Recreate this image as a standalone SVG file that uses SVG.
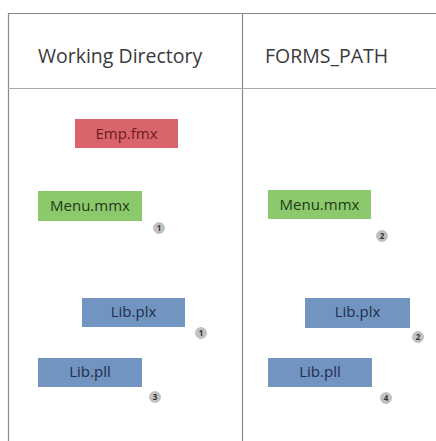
<svg xmlns="http://www.w3.org/2000/svg" width="436" height="441" viewBox="0 0 436 441">
<style>
.hdr{font-family:"Open Sans","Liberation Sans",sans-serif;font-size:19.5px;font-weight:500;fill:#3a3a3a}
.lbl{font-family:"Open Sans","Liberation Sans",sans-serif;font-size:15px;font-weight:500;text-anchor:middle}
.red rect{fill:#d9646c}.red text{fill:#6a1c22}
.green rect{fill:#8cc96c}.green text{fill:#1f3a18}
.blue rect{fill:#7294c0}.blue text{fill:#1f2e4c}
.badge circle{fill:#c2c2c2;stroke:#a0a0a0;stroke-width:0.5}
.badge text{font-family:"Open Sans","Liberation Sans",sans-serif;font-size:8px;font-weight:700;text-anchor:middle;fill:#333}
.grid{stroke:#8a8a8a;stroke-width:1.2;fill:none}
</style>
<rect width="436" height="441" fill="#fff"/>
<g id="table" class="grid">
<path d="M8.5 441V13.5H436"/>
<path d="M242.5 13V441"/>
<path d="M8 88.5H436" stroke="#aaa"/>
</g>
<g id="headers">
<text class="hdr" x="38" y="63">Working Directory</text>
<text class="hdr" x="265" y="63">FORMS_PATH</text>
</g>
<g id="emp-fmx" class="red"><rect x="75" y="119" width="103" height="29"/><text class="lbl" x="126.5" y="138.5">Emp.fmx</text></g>
<g id="menu-wd" class="green"><rect x="38" y="191" width="104" height="30"/><text class="lbl" x="90" y="210.5">Menu.mmx</text></g>
<g id="menu-fp" class="green"><rect x="268" y="190" width="103" height="29"/><text class="lbl" x="319.5" y="209.5">Menu.mmx</text></g>
<g id="libplx-wd" class="blue"><rect x="82" y="298" width="103" height="29"/><text class="lbl" x="133.5" y="317">Lib.plx</text></g>
<g id="libpll-wd" class="blue"><rect x="38" y="358" width="104" height="29"/><text class="lbl" x="90" y="377">Lib.pll</text></g>
<g id="libplx-fp" class="blue"><rect x="305" y="298" width="105" height="30"/><text class="lbl" x="357.5" y="317">Lib.plx</text></g>
<g id="libpll-fp" class="blue"><rect x="268" y="358" width="104" height="29"/><text class="lbl" x="320" y="377">Lib.pll</text></g>
<g id="badges" class="badge">
<g id="b1"><circle cx="159" cy="228" r="5.5"/><text x="159" y="231">1</text></g>
<g id="b2"><circle cx="382" cy="236" r="5.5"/><text x="382" y="239">2</text></g>
<g id="b3"><circle cx="201" cy="333" r="5.5"/><text x="201" y="336">1</text></g>
<g id="b4"><circle cx="155" cy="397" r="5.5"/><text x="155" y="400">3</text></g>
<g id="b5"><circle cx="418" cy="337" r="5.5"/><text x="418" y="340">2</text></g>
<g id="b6"><circle cx="386" cy="398" r="5.5"/><text x="386" y="401">4</text></g>
</g>
<g id="connectors"/>
</svg>
